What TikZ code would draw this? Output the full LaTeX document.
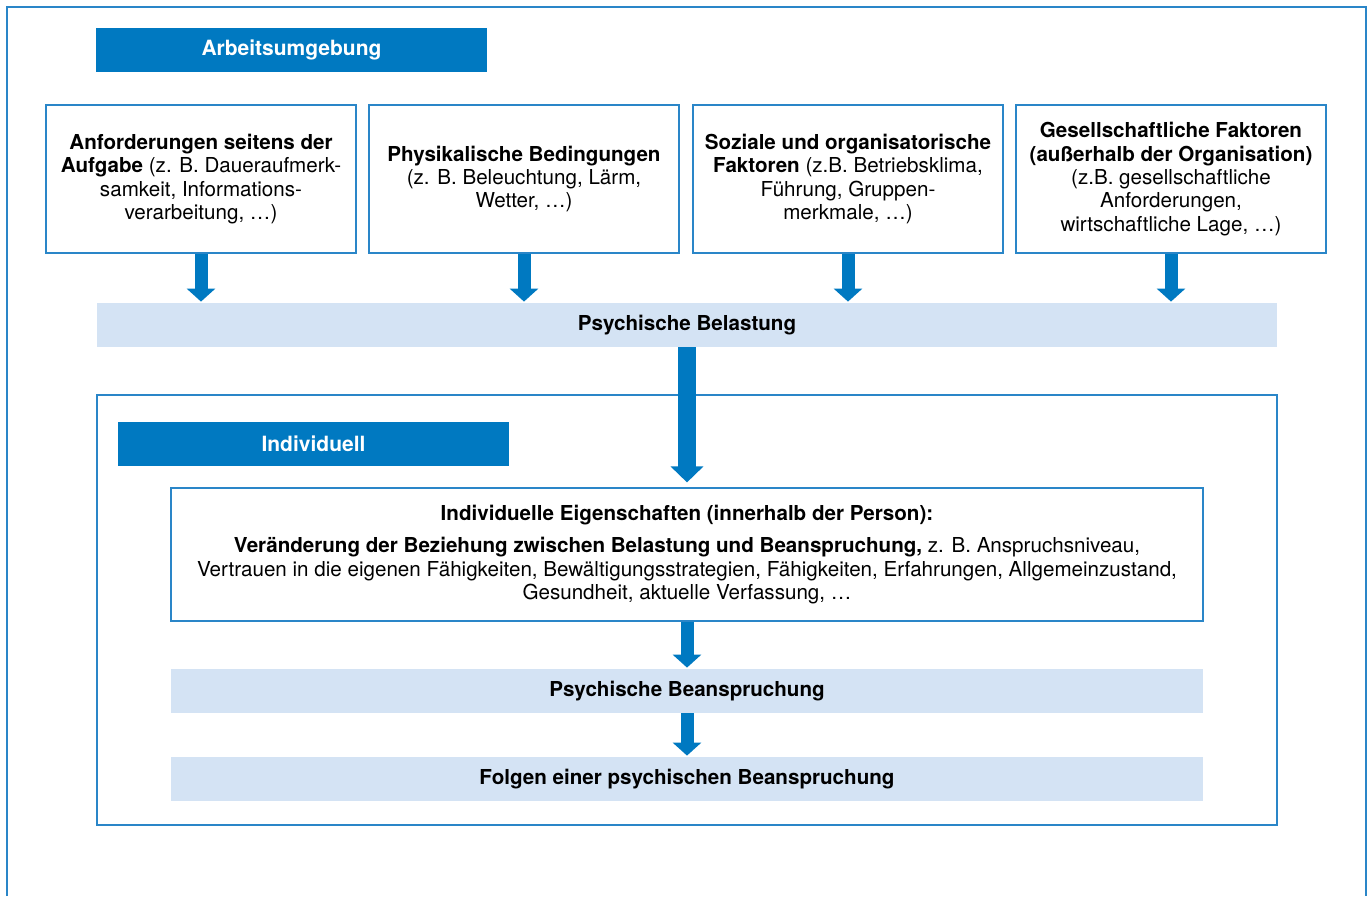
\documentclass[tikz,border=0pt]{standalone}
\usepackage{fontspec}
\setmainfont{TeX Gyre Heros}
\usetikzlibrary{arrows.meta}
\definecolor{dblue}{HTML}{0079C1}
\definecolor{lblue}{HTML}{D4E3F4}
\definecolor{frameblue}{HTML}{2A86C8}
\tikzset{
  txt/.style={font=\fontsize{10.3}{11.7}\selectfont, align=center, text=black},
  header/.style={fill=dblue, draw=none, text=white, font=\bfseries\fontsize{10.5}{12}\selectfont,
    minimum width=195.5pt, minimum height=22pt, inner sep=0pt},
  factorbox/.style={txt, draw=frameblue, line width=0.6pt, fill=white,
    minimum width=155pt, minimum height=74pt, inner sep=0pt},
  band/.style={txt, fill=lblue, draw=none, font=\bfseries\fontsize{10.3}{11.7}\selectfont,
    minimum height=22pt, inner sep=0pt},
  smallarrow/.style={draw=dblue, line width=6.5pt, -{Triangle[length=6.5pt, width=14pt]}},
  bigarrow/.style={draw=dblue, line width=9pt, -{Triangle[length=8pt, width=16pt]}},
}
\begin{document}
\begin{tikzpicture}[x=0.5pt, y=-0.5pt]
\useasboundingbox (0,0) rectangle (1372,896);
% outer frame (open at the bottom)
\draw[frameblue, line width=0.6pt] (7,896) -- (7,7) -- (1366,7) -- (1366,896);

\node[header] (arb) at (291.5,50) {Arbeitsumgebung};

\node[factorbox] (f1) at (201,179) {\textbf{Anforderungen seitens der}\\\textbf{Aufgabe} (z. B. Daueraufmerk-\\samkeit, Informations-\\verarbeitung, …)};
\node[factorbox] (f2) at (524,179) {\textbf{Physikalische Bedingungen}\\(z. B. Beleuchtung, Lärm,\\Wetter, …)};
\node[factorbox] (f3) at (848,179) {\textbf{Soziale und organisatorische}\\\textbf{Faktoren} (z.B. Betriebsklima,\\Führung, Gruppen-\\merkmale, …)};
\node[factorbox] (f4) at (1171,179) {\textbf{Gesellschaftliche Faktoren}\\\textbf{(außerhalb der Organisation)}\\(z.B. gesellschaftliche\\Anforderungen,\\wirtschaftliche Lage, …)};

\node[band, minimum width=590pt] (bel) at (687,325) {Psychische Belastung};

\foreach \f in {f1,f2,f3,f4}
  \draw[smallarrow] (\f.south) -- ([yshift=0.5pt]\f.south |- bel.north);

% individual frame
\node[draw=frameblue, line width=0.6pt, minimum width=590pt, minimum height=215pt, inner sep=0pt] (ind) at (687,610) {};
\node[header] (indh) at (313.5,443.5) {Individuell};

\node[factorbox, minimum width=516pt, minimum height=66.5pt] (eig) at (687,554.5)
 {\textbf{Individuelle Eigenschaften (innerhalb der Person):}\\[4.5pt]
  \textbf{Veränderung der Beziehung zwischen Belastung und Beanspruchung,} z. B. Anspruchsniveau,\\
  Vertrauen in die eigenen Fähigkeiten, Bewältigungsstrategien, Fähigkeiten, Erfahrungen, Allgemeinzustand,\\
  Gesundheit, aktuelle Verfassung, …};

\node[band, minimum width=516pt] (bea) at (687,691) {Psychische Beanspruchung};
\node[band, minimum width=516pt] (fol) at (687,779) {Folgen einer psychischen Beanspruchung};

\draw[bigarrow, shorten >=2.5pt] (bel.south) -- (eig.north);
\draw[smallarrow] (eig.south) -- ([yshift=0.5pt]bea.north);
\draw[smallarrow] (bea.south) -- ([yshift=0.5pt]fol.north);
\end{tikzpicture}
\end{document}
